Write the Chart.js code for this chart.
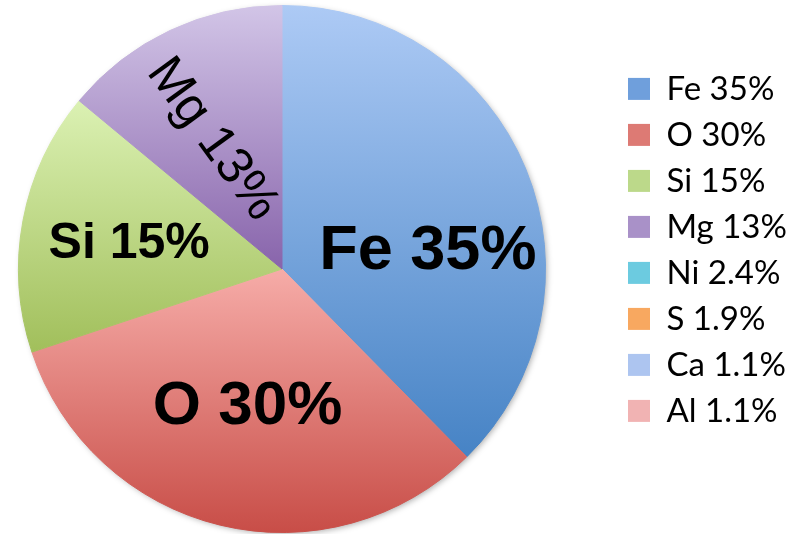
<!DOCTYPE html>
<html lang="en">
<head>
  <meta charset="UTF-8">
  <title>Composition</title>
  <script src="https://cdn.jsdelivr.net/npm/chart.js"></script>
  <style>
    body {
      margin: 0;
      background: #fff;
    }
    canvas {
      display: block;
    }
  </style>
</head>
<body>
  <canvas id="pieChart" width="808" height="534"></canvas>

  <script>
    // data
    const elements = ['Fe', 'O', 'Si', 'Mg', 'Ni', 'S', 'Ca', 'Al'];
    const shares = [35, 30, 15, 13, 2.4, 1.9, 1.1, 1.1];
    // these only show up in the legend, the pie leaves them out
    const legendOnly = ['Ni', 'S', 'Ca', 'Al'];

    // top / bottom colour of each slice gradient
    const topColors = ['#adcaf5', '#f6aca8', '#dbf1b3', '#d2c5e7', '#a5e3f3', '#fcc495', '#bcd2f7', '#f8c4c4'];
    const bottomColors = ['#4683c5', '#c84d47', '#a1bf5b', '#8864ab', '#3fb0c9', '#f39234', '#9db7e6', '#e9a4a4'];
    const swatchColors = ['#6f9fdc', '#dd7a74', '#bcd98a', '#a991c8', '#6ccbe0', '#f8a860', '#adc5f0', '#f1b3b3'];

    // in-slice label look: radius fraction, angle shift (deg), font, rotation (deg)
    const sliceLabels = {
      Fe: { r: 0.56, shift: 13.5, size: 63, weight: 'bold', rot: 0 },
      O:  { r: 0.52, shift: 1,    size: 62, weight: 'bold', rot: 0 },
      Si: { r: 0.59, shift: 0,    size: 50, weight: 'bold', rot: 0 },
      Mg: { r: 0.56, shift: -1.5, size: 51, weight: 'normal', rot: 54 }
    };

    const legendFont = { family: 'Lato', size: 33 };
    const legendPad = 13;
    const boxSize = 22;

    const labelText = (i) => `${elements[i]} ${shares[i]}%`;

    // width the legend will take, so it can be placed where the original has it
    const mctx = document.createElement('canvas').getContext('2d');
    mctx.font = `${legendFont.size}px ${legendFont.family}`;
    const maxTextW = Math.max(...elements.map((e, i) => mctx.measureText(labelText(i)).width));
    const legendW = legendPad + boxSize + legendFont.size / 2 + maxTextW + 10;
    const legendLeft = 615;
    const pieCenterX = 282;

    function visible(i) {
      return !legendOnly.includes(elements[i]);
    }

    // vertical gradient spanning each slice's own height
    function sliceGradient(context) {
      const chart = context.chart;
      const area = chart.chartArea;
      const i = context.dataIndex;
      if (!area || i === undefined) return swatchColors[i] || '#ccc';
      const cx = (area.left + area.right) / 2;
      const cy = (area.top + area.bottom) / 2;
      const r = Math.min(area.right - area.left, area.bottom - area.top) / 2;
      let total = 0;
      shares.forEach((v, k) => { if (visible(k)) total += v; });
      let start = -Math.PI / 2;
      for (let k = 0; k < i; k++) {
        if (visible(k)) start += shares[k] / total * Math.PI * 2;
      }
      const end = start + (visible(i) ? shares[i] / total * Math.PI * 2 : 0);
      const ys = [cy, cy + r * Math.sin(start), cy + r * Math.sin(end)];
      const within = (a) => {
        let t = a;
        while (t < start) t += Math.PI * 2;
        return t <= end;
      };
      if (within(-Math.PI / 2)) ys.push(cy - r);
      if (within(Math.PI / 2)) ys.push(cy + r);
      const y0 = Math.min(...ys);
      let y1 = Math.max(...ys);
      if (y1 - y0 < 1) y1 = y0 + 1;
      const g = chart.ctx.createLinearGradient(0, y0, 0, y1);
      g.addColorStop(0, topColors[i]);
      g.addColorStop(1, bottomColors[i]);
      return g;
    }

    // the pie sits further left than the chart area centre, like the original
    const pieArea = {
      id: 'pieArea',
      afterLayout(chart) {
        const a = chart.chartArea;
        a.left = 2 * pieCenterX - a.right;
        a.width = a.right - a.left;
      }
    };

    // soft shadow under the whole pie
    const pieShadow = {
      id: 'pieShadow',
      beforeDatasetsDraw(chart) {
        const arc = chart.getDatasetMeta(0).data[0];
        if (!arc) return;
        const ctx = chart.ctx;
        ctx.save();
        ctx.shadowColor = 'rgba(0, 0, 0, 0.35)';
        ctx.shadowBlur = 6;
        ctx.shadowOffsetX = 2;
        ctx.shadowOffsetY = 2;
        ctx.fillStyle = '#fff';
        ctx.beginPath();
        ctx.arc(arc.x, arc.y, arc.outerRadius - 1, 0, Math.PI * 2);
        ctx.fill();
        ctx.restore();
      }
    };

    // text written inside the big slices
    const sliceText = {
      id: 'sliceText',
      afterDatasetsDraw(chart) {
        const ctx = chart.ctx;
        const meta = chart.getDatasetMeta(0);
        meta.data.forEach((arc, i) => {
          const spec = sliceLabels[elements[i]];
          if (!spec || !visible(i)) return;
          const mid = (arc.startAngle + arc.endAngle) / 2 + spec.shift * Math.PI / 180;
          const x = arc.x + Math.cos(mid) * arc.outerRadius * spec.r;
          const y = arc.y + Math.sin(mid) * arc.outerRadius * spec.r;
          ctx.save();
          ctx.translate(x, y);
          ctx.rotate(spec.rot * Math.PI / 180);
          ctx.font = `${spec.weight} ${spec.size}px "Liberation Sans", Arial, sans-serif`;
          ctx.fillStyle = '#000';
          ctx.textAlign = 'center';
          ctx.textBaseline = 'alphabetic';
          ctx.fillText(labelText(i), 0, spec.size * 0.716 / 2);
          ctx.restore();
        });
      }
    };

    const ctxPie = document.getElementById('pieChart').getContext('2d');
    const pieChart = new Chart(ctxPie, {
      type: 'pie',
      data: {
        labels: elements.map((e, i) => labelText(i)),
        datasets: [{
          data: shares,
          backgroundColor: sliceGradient,
          borderColor: sliceGradient,
          borderWidth: (c) => (visible(c.dataIndex) ? 1 : 0)
        }]
      },
      options: {
        responsive: false,
        animation: false,
        layout: {
          padding: {
            top: 5,
            bottom: 1,
            left: 0,
            right: 808 - legendLeft - legendW
          }
        },
        plugins: {
          tooltip: { enabled: false },
          legend: {
            position: 'right',
            align: 'start',
            onClick: null,
            title: {
              display: true,
              text: '',
              font: { size: 12, lineHeight: 1.2 },
              padding: { top: 20, bottom: 20 }
            },
            labels: {
              color: '#000',
              font: legendFont,
              padding: legendPad,
              boxWidth: boxSize,
              boxHeight: boxSize,
              generateLabels: function(chart) {
                return elements.map((e, i) => ({
                  text: labelText(i),
                  fillStyle: swatchColors[i],
                  strokeStyle: swatchColors[i],
                  lineWidth: 0,
                  hidden: false,
                  index: i,
                  fontColor: '#000'
                }));
              }
            }
          }
        }
      },
      plugins: [pieArea, pieShadow, sliceText]
    });

    // small elements are not drawn in the pie
    elements.forEach((e, i) => {
      if (!visible(i)) pieChart.toggleDataVisibility(i);
    });
    pieChart.update();
  </script>
</body>
</html>
